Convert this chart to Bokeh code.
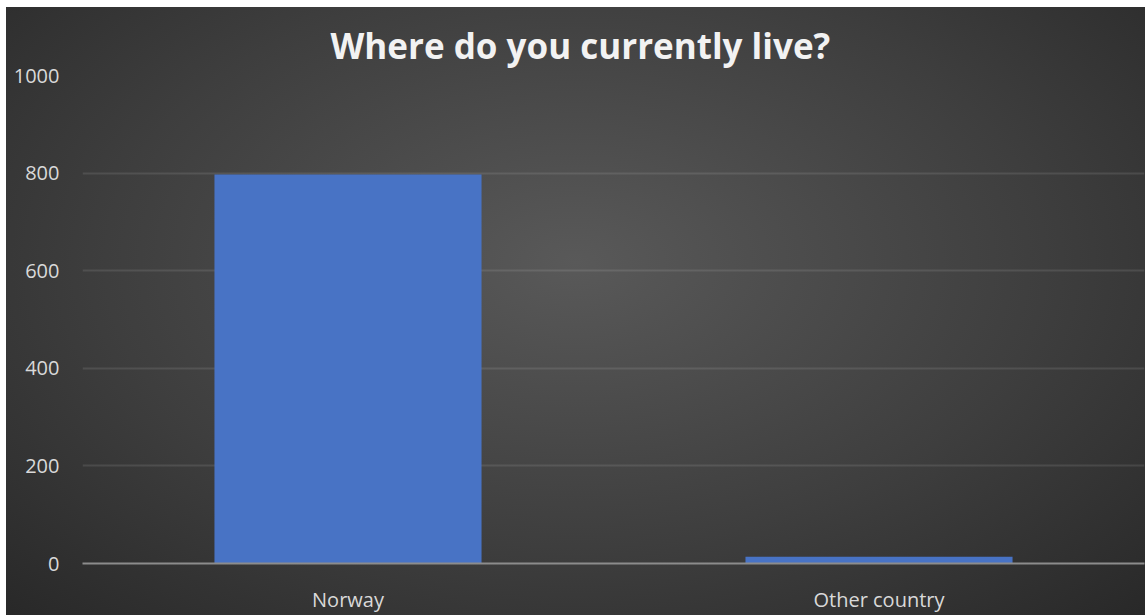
from bokeh.plotting import figure
from bokeh.models import FactorRange, Range1d, FixedTicker
from bokeh.embed import file_html
from bokeh.resources import INLINE

categories = ["Norway", "Other country"]
counts = [797, 14]
y_ticks = [0, 200, 400, 600, 800, 1000]
title_text = "Where do you currently live?"

FONT = "Open Sans"

p = figure(
    x_range=FactorRange(*categories, range_padding=0),
    y_range=Range1d(0, 1000),
    width=1139, height=608,
    output_backend="svg", toolbar_location=None,
    min_border_left=76, min_border_right=1, min_border_top=68, min_border_bottom=47,
)
p.x_range.factor_padding = 0

p.vbar(x=categories, top=counts, width=0.503, fill_color="#4873c5", line_color=None)

p.background_fill_alpha = 0
p.border_fill_alpha = 0
p.outline_line_color = None
p.styles = {
    "margin-left": "6px",
    "margin-top": "7px",
    "background": "radial-gradient(ellipse 75% 85% at 50% 42%, #595959 0%, #3e3e3e 55%, #262626 100%)",
}

p.title.text = title_text
p.title.align = "left"
p.title.offset = 248
p.title.standoff = 10
p.title.vertical_align = "top"
p.title.text_color = "#f2f2f2"
p.title.text_font = FONT
p.title.text_font_style = "bold"
p.title.text_font_size = "35px"

yax = p.yaxis[0]
yax.ticker = FixedTicker(ticks=y_ticks)
yax.axis_line_color = None
yax.major_tick_line_color = None
yax.minor_tick_line_color = None
yax.major_label_text_color = "#d9d9d9"
yax.major_label_text_font = FONT
yax.major_label_text_font_size = "20px"
yax.major_label_standoff = 17

xax = p.xaxis[0]
xax.axis_line_color = "#8c8c8c"
xax.axis_line_width = 2
xax.major_tick_line_color = None
xax.minor_tick_line_color = None
xax.major_label_text_color = "#d9d9d9"
xax.major_label_text_font = FONT
xax.major_label_text_font_size = "20px"
xax.major_label_standoff = 16

p.xgrid.grid_line_color = None
p.ygrid.ticker = FixedTicker(ticks=y_ticks)
p.ygrid.grid_line_color = "#ffffff"
p.ygrid.grid_line_alpha = 0.1
p.ygrid.grid_line_width = 2

open("out.html", "w").write(file_html(p, INLINE))
